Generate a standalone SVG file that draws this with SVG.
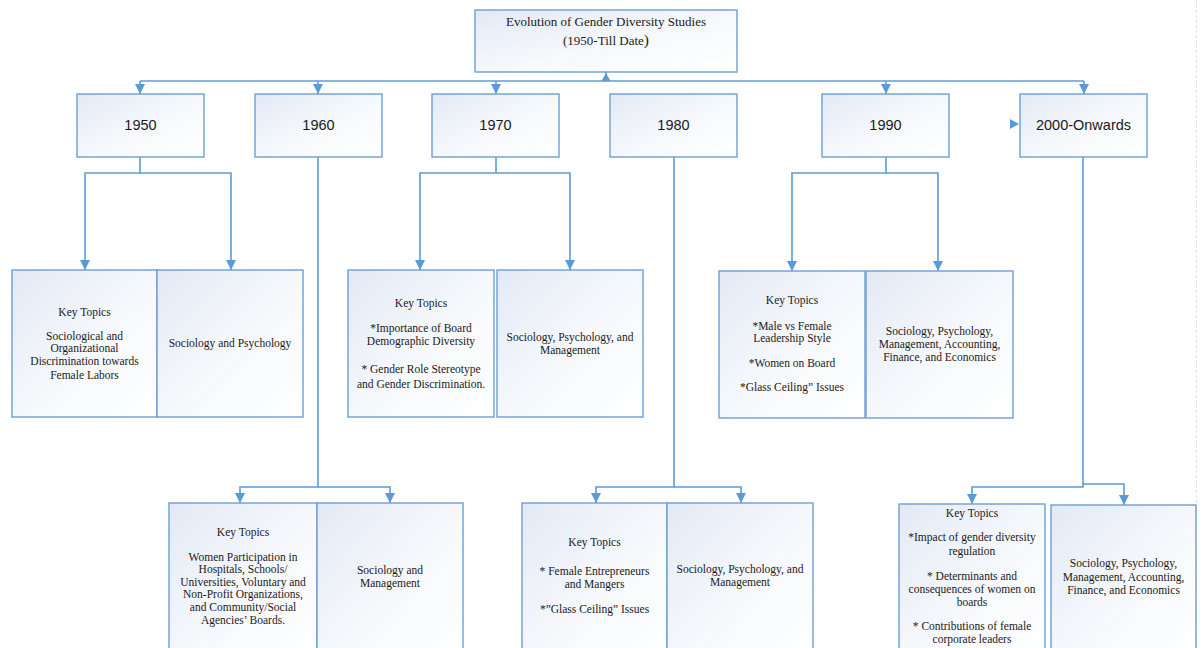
<svg xmlns="http://www.w3.org/2000/svg" width="1203" height="648" viewBox="0 0 1203 648">
<defs>
<linearGradient id="g" x1="0" y1="0" x2="1" y2="1">
<stop offset="0" stop-color="#e3e9f5"/>
<stop offset="0.55" stop-color="#f7f9fc"/>
<stop offset="1" stop-color="#ffffff"/>
</linearGradient>
<marker id="ah" viewBox="0 0 10 10" refX="10" refY="5" markerWidth="10" markerHeight="10" markerUnits="userSpaceOnUse" orient="auto">
<path d="M0,0 L10,5 L0,10 z" fill="#5b9bd5"/>
</marker>
<style>
.box{fill:url(#g);stroke:#6c9fd6;stroke-width:1.4}
.c{fill:none;stroke:#5b9bd5;stroke-width:1.6}
.ca{fill:none;stroke:#5b9bd5;stroke-width:1.6;marker-end:url(#ah)}
.t{font-family:"Liberation Serif","Times New Roman",serif;font-size:11.5px;fill:#1a1a1a;text-anchor:middle}
.tt{font-size:13px}
.y{font-family:"Liberation Sans",Arial,sans-serif;font-size:14.5px;fill:#1a1a1a;text-anchor:middle}
.hd{fill:#5b9bd5}
</style>
</defs>
<rect width="1203" height="648" fill="#ffffff"/>
<line x1="1196.5" y1="0" x2="1196.5" y2="648" stroke="#e4e4e4" stroke-width="1" stroke-dasharray="3,2"/>

<g id="connectors">
<path class="c" d="M606,43 V81"/>
<polygon class="hd" points="601.5,81 610.5,81 606,73"/>
<path class="c" d="M140,81 H1084"/>
<path class="ca" d="M140,81 V94"/>
<path class="ca" d="M318,81 V94"/>
<path class="ca" d="M496,81 V94"/>
<path class="ca" d="M886,81 V94"/>
<path class="ca" d="M1084,81 V94"/>
<polygon class="hd" points="1010,119 1010,129 1019,124"/>
<path class="ca" d="M140,157 V173 H85 V270"/>
<path class="ca" d="M140,173 H231 V270"/>
<path class="ca" d="M318,157 V487 H240 V503"/>
<path class="ca" d="M318,487 H390 V503"/>
<path class="ca" d="M496,157 V173 H420 V270"/>
<path class="ca" d="M496,173 H570 V270"/>
<path class="ca" d="M674,157 V487 H596 V503"/>
<path class="ca" d="M674,487 H741 V503"/>
<path class="ca" d="M886,157 V173 H792 V271"/>
<path class="ca" d="M886,173 H938 V271"/>
<path class="ca" d="M1083,157 V487 H972 V504"/>
<path class="ca" d="M1083,484 H1124 V505"/>
</g>

<g id="title">
<rect class="box" x="475" y="10" width="262" height="62"/>
<text class="t tt" x="606" y="26">Evolution of Gender Diversity Studies</text>
<text class="t tt" x="606" y="45">(1950-Till Date<tspan style="font-size:15.5px">)</tspan></text>
</g>

<g id="y1950"><rect class="box" x="77" y="94" width="127" height="63"/><text class="y" x="140.5" y="130">1950</text></g>
<g id="y1960"><rect class="box" x="255" y="94" width="127" height="63"/><text class="y" x="318.5" y="130">1960</text></g>
<g id="y1970"><rect class="box" x="432" y="94" width="127" height="63"/><text class="y" x="495.5" y="130">1970</text></g>
<g id="y1980"><rect class="box" x="610" y="94" width="127" height="63"/><text class="y" x="673.5" y="130">1980</text></g>
<g id="y1990"><rect class="box" x="822" y="94" width="127" height="63"/><text class="y" x="885.5" y="130">1990</text></g>
<g id="y2000"><rect class="box" x="1020" y="94" width="127" height="63"/><text class="y" x="1083.5" y="130">2000-Onwards</text></g>

<g id="k1950">
<rect class="box" x="12" y="270" width="145" height="147"/>
<text class="t" x="84.5" y="316">Key Topics</text>
<text class="t" x="84.5" y="340">Sociological and</text>
<text class="t" x="84.5" y="352">Organizational</text>
<text class="t" x="84.5" y="365">Discrimination towards</text>
<text class="t" x="84.5" y="379">Female Labors</text>
</g>
<g id="f1950">
<rect class="box" x="157" y="270" width="146" height="147"/>
<text class="t" x="230" y="347">Sociology and Psychology</text>
</g>

<g id="k1970">
<rect class="box" x="348" y="270" width="146" height="147"/>
<text class="t" x="421" y="307">Key Topics</text>
<text class="t" x="421" y="332">*Importance of Board</text>
<text class="t" x="421" y="345">Demographic Diversity</text>
<text class="t" x="421" y="373">* Gender Role Stereotype</text>
<text class="t" x="421" y="388">and Gender Discrimination.</text>
</g>
<g id="f1970">
<rect class="box" x="497" y="270" width="146" height="147"/>
<text class="t" x="570" y="341">Sociology, Psychology, and</text>
<text class="t" x="570" y="354">Management</text>
</g>

<g id="k1990">
<rect class="box" x="719" y="271" width="146" height="147"/>
<text class="t" x="792" y="304">Key Topics</text>
<text class="t" x="792" y="330">*Male vs Female</text>
<text class="t" x="792" y="342">Leadership Style</text>
<text class="t" x="792" y="367">*Women on Board</text>
<text class="t" x="792" y="391">*Glass Ceiling” Issues</text>
</g>
<g id="f1990">
<rect class="box" x="866" y="271" width="147" height="147"/>
<text class="t" x="939.5" y="335">Sociology, Psychology,</text>
<text class="t" x="939.5" y="348">Management, Accounting,</text>
<text class="t" x="939.5" y="361">Finance, and Economics</text>
</g>

<g id="k1960">
<rect class="box" x="169" y="503" width="148" height="160"/>
<text class="t" x="243" y="536">Key Topics</text>
<text class="t" x="243" y="561">Women Participation in</text>
<text class="t" x="243" y="573">Hospitals, Schools/</text>
<text class="t" x="243" y="586">Universities, Voluntary and</text>
<text class="t" x="243" y="598">Non-Profit Organizations,</text>
<text class="t" x="243" y="611">and Community/Social</text>
<text class="t" x="243" y="624">Agencies’ Boards.</text>
</g>
<g id="f1960">
<rect class="box" x="317" y="503" width="146" height="160"/>
<text class="t" x="390" y="574">Sociology and</text>
<text class="t" x="390" y="587">Management</text>
</g>

<g id="k1980">
<rect class="box" x="522" y="503" width="145" height="160"/>
<text class="t" x="594.5" y="546">Key Topics</text>
<text class="t" x="594.5" y="575">* Female Entrepreneurs</text>
<text class="t" x="594.5" y="588">and Mangers</text>
<text class="t" x="594.5" y="613">*”Glass Ceiling” Issues</text>
</g>
<g id="f1980">
<rect class="box" x="667" y="503" width="146" height="160"/>
<text class="t" x="740" y="573">Sociology, Psychology, and</text>
<text class="t" x="740" y="586">Management</text>
</g>

<g id="k2000">
<rect class="box" x="899" y="504" width="146" height="160"/>
<text class="t" x="972" y="517">Key Topics</text>
<text class="t" x="972" y="541">*Impact of gender diversity</text>
<text class="t" x="972" y="555">regulation</text>
<text class="t" x="972" y="580">* Determinants and</text>
<text class="t" x="972" y="593">consequences of women on</text>
<text class="t" x="972" y="606">boards</text>
<text class="t" x="972" y="630">* Contributions of female</text>
<text class="t" x="972" y="643">corporate leaders</text>
</g>
<g id="f2000">
<rect class="box" x="1051" y="505" width="145" height="160"/>
<text class="t" x="1123.5" y="567">Sociology, Psychology,</text>
<text class="t" x="1123.5" y="581">Management, Accounting,</text>
<text class="t" x="1123.5" y="594">Finance, and Economics</text>
</g>
</svg>
